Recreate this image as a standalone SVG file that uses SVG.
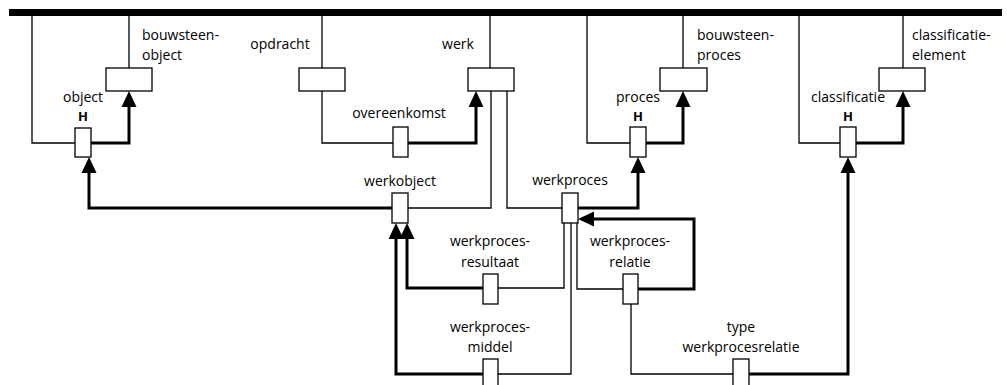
<svg xmlns="http://www.w3.org/2000/svg" width="1007" height="385" viewBox="0 0 1007 385">
<defs>
<style>
.box{fill:#fff;stroke:#000;stroke-width:1.3}
.thin{fill:none;stroke:#000;stroke-width:1.3}
.thick{fill:none;stroke:#000;stroke-width:3;marker-end:url(#arr)}
text{font-family:"Open Sans","Noto Sans",sans-serif;font-size:14px;fill:#000}
.m{text-anchor:middle}
.h{font-weight:bold;text-anchor:middle;font-size:13px}
</style>
<marker id="arr" markerUnits="userSpaceOnUse" markerWidth="16" markerHeight="16" refX="0" refY="8" orient="auto" viewBox="0 0 16 16">
<path d="M0,0.5 L16,8 L0,15.5 Z" fill="#000"/>
</marker>
</defs>
<rect x="9" y="9" width="993" height="7" fill="#000"/>
<g id="connectors">
<path class="thin" d="M32,16 V143 H75"/>
<path class="thin" d="M129,16 V68"/>
<path class="thin" d="M322,16 V68"/>
<path class="thin" d="M322,91 V143 H393"/>
<path class="thin" d="M490,16 V68"/>
<path class="thin" d="M491,91 V208 H408"/>
<path class="thin" d="M507,91 V208 H562"/>
<path class="thin" d="M587,16 V143 H630"/>
<path class="thin" d="M683,16 V68"/>
<path class="thin" d="M799,16 V143 H840"/>
<path class="thin" d="M903,16 V68"/>
<path class="thin" d="M564,223 V288 H498"/>
<path class="thin" d="M571,223 V374 H498"/>
<path class="thin" d="M577,223 V289 H623"/>
<path class="thin" d="M631,304 V374 H733"/>
<path class="thick" d="M91,143 H129 V107"/>
<path class="thick" d="M392,208 H89 V173"/>
<path class="thick" d="M408,143 H476 V107"/>
<path class="thick" d="M646,143 H683 V107"/>
<path class="thick" d="M578,208 H638 V173"/>
<path class="thick" d="M856,143 H903 V107"/>
<path class="thick" d="M749,374 H848 V173"/>
<path class="thick" d="M483,288 H407 V239"/>
<path class="thick" d="M483,374 H396 V239"/>
<path class="thick" d="M638,289 H694 V219 H594"/>
</g>
<g id="bouwsteen-object">
<rect class="box" x="106" y="68" width="46" height="23"/>
<text x="142" y="40">bouwsteen-</text>
<text x="142" y="60">object</text>
</g>
<g id="object">
<rect class="box" x="75" y="128" width="16" height="29"/>
<text class="m" x="83" y="102">object</text>
<text class="h" x="83" y="121">H</text>
</g>
<g id="opdracht">
<rect class="box" x="299" y="68" width="46" height="23"/>
<text class="m" x="280" y="49">opdracht</text>
</g>
<g id="werk">
<rect class="box" x="468" y="68" width="46" height="23"/>
<text class="m" x="458" y="49">werk</text>
</g>
<g id="overeenkomst">
<rect class="box" x="393" y="127" width="15" height="30"/>
<text class="m" x="399" y="118">overeenkomst</text>
</g>
<g id="bouwsteen-proces">
<rect class="box" x="660" y="68" width="47" height="23"/>
<text x="697" y="40">bouwsteen-</text>
<text x="697" y="60">proces</text>
</g>
<g id="proces">
<rect class="box" x="630" y="127" width="16" height="30"/>
<text class="m" x="638" y="102">proces</text>
<text class="h" x="638" y="121">H</text>
</g>
<g id="classificatie-element">
<rect class="box" x="879" y="68" width="46" height="23"/>
<text x="912" y="40">classificatie-</text>
<text x="912" y="60">element</text>
</g>
<g id="classificatie">
<rect class="box" x="840" y="127" width="16" height="30"/>
<text class="m" x="848" y="102">classificatie</text>
<text class="h" x="848" y="121">H</text>
</g>
<g id="werkobject">
<rect class="box" x="392" y="193" width="16" height="30"/>
<text class="m" x="400" y="186">werkobject</text>
</g>
<g id="werkproces">
<rect class="box" x="562" y="193" width="16" height="30"/>
<text class="m" x="570" y="185">werkproces</text>
</g>
<g id="werkproces-resultaat">
<rect class="box" x="483" y="274" width="15" height="30"/>
<text class="m" x="490" y="246">werkproces-</text>
<text class="m" x="490" y="267">resultaat</text>
</g>
<g id="werkproces-relatie">
<rect class="box" x="623" y="274" width="15" height="30"/>
<text class="m" x="630" y="246">werkproces-</text>
<text class="m" x="630" y="267">relatie</text>
</g>
<g id="werkproces-middel">
<rect class="box" x="483" y="359" width="15" height="30"/>
<text class="m" x="490" y="332">werkproces-</text>
<text class="m" x="490" y="352">middel</text>
</g>
<g id="type-werkprocesrelatie">
<rect class="box" x="733" y="359" width="16" height="30"/>
<text class="m" x="741" y="332">type</text>
<text class="m" x="741" y="352">werkprocesrelatie</text>
</g>
</svg>
